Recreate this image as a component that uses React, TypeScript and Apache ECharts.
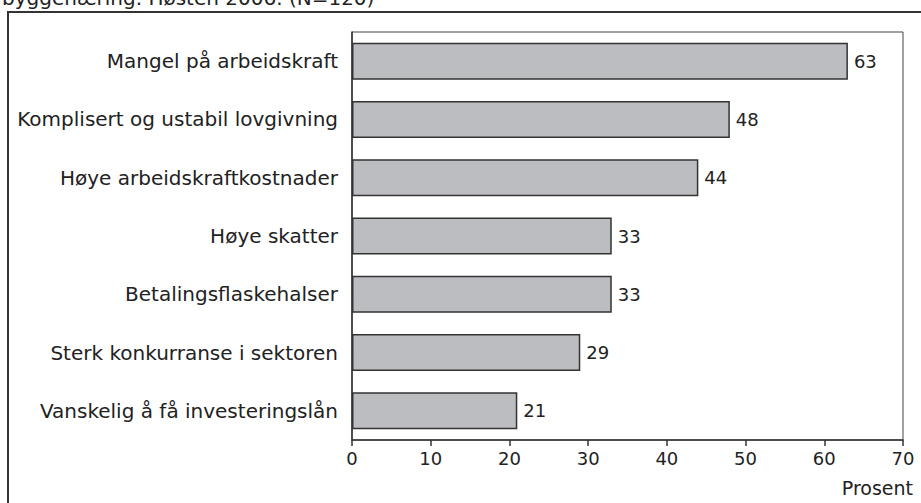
import React, { useEffect, useRef } from "react";
import * as echarts from "echarts";

const categories = [
  "Mangel på arbeidskraft",
  "Komplisert og ustabil lovgivning",
  "Høye arbeidskraftkostnader",
  "Høye skatter",
  "Betalingsflaskehalser",
  "Sterk konkurranse i sektoren",
  "Vanskelig å få investeringslån",
];
const values = [63, 48, 44, 33, 33, 29, 21];
const xTicks = [0, 10, 20, 30, 40, 50, 60, 70];
const titleText = "byggenæring. Høsten 2006. (N=120)";
const unitLabel = "Prosent";

const FONT = "'DejaVu Sans', sans-serif";

export default function App() {
  const ref = useRef<HTMLDivElement>(null);
  useEffect(() => {
    if (!ref.current) return;
    const chart = echarts.init(ref.current, null, { renderer: "svg" });
    chart.setOption({
      animation: false,
      backgroundColor: "#ffffff",
      textStyle: { fontFamily: FONT },
      grid: {
        left: 352,
        right: 18,
        top: 32,
        bottom: 63,
        show: true,
        borderColor: "#444",
        borderWidth: 1,
      },
      xAxis: {
        type: "value",
        min: xTicks[0],
        max: xTicks[xTicks.length - 1],
        interval: 10,
        splitLine: { show: false },
        axisLine: { show: true, lineStyle: { color: "#333", width: 1.5 } },
        axisTick: { show: true, length: 6, lineStyle: { color: "#333", width: 1.5 } },
        axisLabel: { color: "#222", fontSize: 18, margin: 9, fontFamily: FONT },
      },
      yAxis: {
        type: "category",
        data: categories,
        inverse: true,
        axisLine: { show: true, lineStyle: { color: "#333", width: 1.5 } },
        axisTick: { show: false },
        axisLabel: { color: "#222", fontSize: 20, margin: 14, fontFamily: FONT },
      },
      series: [
        {
          type: "bar",
          data: values,
          barWidth: 37,
          itemStyle: { color: "#bcbdc0", borderColor: "#333", borderWidth: 1.5 },
          label: {
            show: true,
            position: "right",
            distance: 6,
            color: "#222",
            fontSize: 18,
            fontFamily: FONT,
          },
        },
      ],
      graphic: [
        {
          type: "rect",
          shape: { x: 8, y: 12, width: 960, height: 560 },
          style: { fill: "none", stroke: "#333", lineWidth: 2 },
          silent: true,
        },
        {
          type: "text",
          x: 2,
          y: -12,
          style: { text: titleText, fontSize: 20, fill: "#222", fontFamily: FONT },
        },
        {
          type: "text",
          x: 913,
          y: 478,
          style: { text: unitLabel, fontSize: 19, fill: "#222", fontFamily: FONT, align: "right" },
        },
      ],
    });
    return () => chart.dispose();
  }, []);
  return (
    <div
      ref={ref}
      style={{ position: "absolute", left: 0, top: 0, width: 921, height: 503 }}
    />
  );
}
